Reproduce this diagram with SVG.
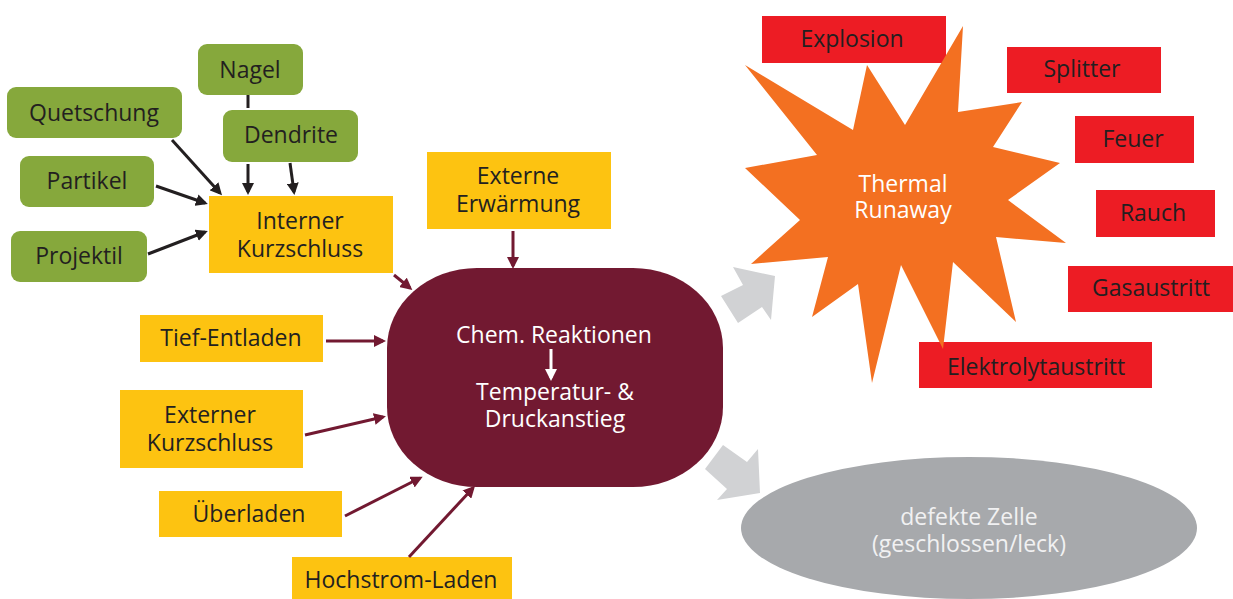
<svg xmlns="http://www.w3.org/2000/svg" width="1233" height="599" viewBox="0 0 1233 599">
  <defs>
    <style>
      text { font-family: "Open Sans", "Noto Sans", "DejaVu Sans", sans-serif; font-size: 23px; text-anchor: middle; }
      .dark { fill: #231f20; }
      .light { fill: #ffffff; }
      .green { fill: #86a83c; }
      .yellow { fill: #fdc311; }
      .red { fill: #ed1c24; }
      .blk { stroke: #231f20; stroke-width: 3; fill: none; marker-end: url(#ahBlack); }
      .mar { stroke: #721931; stroke-width: 3; fill: none; marker-end: url(#ahMaroon); }
      .wht { stroke: #ffffff; stroke-width: 3; fill: none; marker-end: url(#ahWhite); }
      .fat { fill: #d1d2d4; }
    </style>
    <marker id="ahBlack" viewBox="0 0 12 12" refX="9" refY="6" markerWidth="12" markerHeight="12" markerUnits="userSpaceOnUse" orient="auto">
      <path d="M0,0 L12,6 L0,12 z" fill="#231f20"/>
    </marker>
    <marker id="ahMaroon" viewBox="0 0 12 12" refX="9" refY="6" markerWidth="12" markerHeight="12" markerUnits="userSpaceOnUse" orient="auto">
      <path d="M0,0 L12,6 L0,12 z" fill="#721931"/>
    </marker>
    <marker id="ahWhite" viewBox="0 0 12 12" refX="9" refY="6" markerWidth="12" markerHeight="12" markerUnits="userSpaceOnUse" orient="auto">
      <path d="M0,0 L12,6 L0,12 z" fill="#ffffff"/>
    </marker>
  </defs>
  <rect width="1233" height="599" fill="#ffffff"/>

  <!-- causes: mechanical -->
  <g id="nagel"><rect class="green" x="198" y="44" width="105" height="51" rx="9"/><text class="dark" x="250" y="78">Nagel</text></g>
  <g id="quetschung"><rect class="green" x="7" y="87" width="175" height="51" rx="9"/><text class="dark" x="94" y="121">Quetschung</text></g>
  <g id="dendrite"><rect class="green" x="223" y="110" width="135" height="52" rx="9"/><text class="dark" x="291" y="143">Dendrite</text></g>
  <g id="partikel"><rect class="green" x="20" y="156" width="134" height="51" rx="9"/><text class="dark" x="87" y="189">Partikel</text></g>
  <g id="projektil"><rect class="green" x="11" y="231" width="136" height="51" rx="9"/><text class="dark" x="79" y="264">Projektil</text></g>

  <!-- causes: electrical / thermal -->
  <g id="interner-kurzschluss"><rect class="yellow" x="209" y="196" width="184" height="77"/><text class="dark" x="300" y="229">Interner</text><text class="dark" x="300" y="257">Kurzschluss</text></g>
  <g id="externe-erwaermung"><rect class="yellow" x="427" y="152" width="184" height="77"/><text class="dark" x="518" y="184">Externe</text><text class="dark" x="518" y="212">Erwärmung</text></g>
  <g id="tief-entladen"><rect class="yellow" x="140" y="315" width="183" height="47"/><text class="dark" x="231" y="346">Tief-Entladen</text></g>
  <g id="externer-kurzschluss"><rect class="yellow" x="120" y="390" width="183" height="78"/><text class="dark" x="210" y="423">Externer</text><text class="dark" x="210" y="451">Kurzschluss</text></g>
  <g id="ueberladen"><rect class="yellow" x="159" y="491" width="183" height="46"/><text class="dark" x="249" y="522">Überladen</text></g>
  <g id="hochstrom-laden"><rect class="yellow" x="292" y="557" width="220" height="46"/><text class="dark" x="401" y="588">Hochstrom-Laden</text></g>

  <!-- central process -->
  <g id="reaktion">
    <rect x="387" y="268" width="336" height="219" rx="90" ry="80" fill="#721931"/>
    <text class="light" x="554" y="343">Chem. Reaktionen</text>
    <line class="wht" x1="551" y1="349" x2="551" y2="378"/>
    <text class="light" x="555" y="400">Temperatur- &amp;</text>
    <text class="light" x="555" y="427">Druckanstieg</text>
  </g>

  <!-- consequences -->
  <g id="explosion"><rect class="red" x="762" y="16" width="184" height="47"/><text class="dark" x="852" y="47">Explosion</text></g>
  <g id="splitter"><rect class="red" x="1007" y="47" width="154" height="46"/><text class="dark" x="1082" y="77">Splitter</text></g>
  <g id="feuer"><rect class="red" x="1075" y="116" width="119" height="47"/><text class="dark" x="1133" y="147">Feuer</text></g>
  <g id="rauch"><rect class="red" x="1096" y="190" width="119" height="47"/><text class="dark" x="1153" y="221">Rauch</text></g>
  <g id="gasaustritt"><rect class="red" x="1068" y="266" width="165" height="46"/><text class="dark" x="1151" y="296">Gasaustritt</text></g>
  <g id="elektrolytaustritt"><rect class="red" x="919" y="342" width="233" height="46"/><text class="dark" x="1036" y="375">Elektrolytaustritt</text></g>

  <g id="thermal-runaway">
    <polygon fill="#f37021" points="963,26 958,112 1022,102 993,147 1060,163 1008,200 1066,243 996,237 1016,322 953,262 943,349 901,265 872,383 858,284 812,317 828,257 751,264 800,220 745,168 817,155 745,65 853,130 867,65 905,125"/>
    <text class="light" x="903" y="192">Thermal</text>
    <text class="light" x="903" y="218">Runaway</text>
  </g>

  <g id="defekte-zelle">
    <ellipse cx="969" cy="528" rx="228" ry="71" fill="#a7a9ac"/>
    <text x="969" y="525" fill="#f1f1f2">defekte Zelle</text>
    <text x="969" y="552" fill="#f1f1f2">(geschlossen/leck)</text>
  </g>

  <!-- connectors -->
  <g id="connectors">
    <line x1="248" y1="95" x2="248" y2="108" stroke="#231f20" stroke-width="3"/>
    <line class="blk" x1="248" y1="164" x2="248" y2="192"/>
    <line class="blk" x1="290" y1="163" x2="294" y2="192"/>
    <line class="blk" x1="172" y1="140" x2="220" y2="193"/>
    <line class="blk" x1="156" y1="186" x2="205" y2="203"/>
    <line class="blk" x1="148" y1="254" x2="205" y2="232"/>

    <line class="mar" x1="513" y1="231" x2="513" y2="266"/>
    <line class="mar" x1="394" y1="275" x2="410" y2="288"/>
    <line class="mar" x1="326" y1="341" x2="383" y2="341"/>
    <line class="mar" x1="305" y1="435" x2="383" y2="417"/>
    <line class="mar" x1="345" y1="516" x2="420" y2="478"/>
    <line class="mar" x1="409" y1="557" x2="473" y2="488"/>

    <polygon class="fat" points="721,296 743,285 733,267 775,276 771,320 762,307 738,323"/>
    <polygon class="fat" points="705,469 723,445 747,462 758,449 760,493 717,500 727,489"/>
  </g>
</svg>
